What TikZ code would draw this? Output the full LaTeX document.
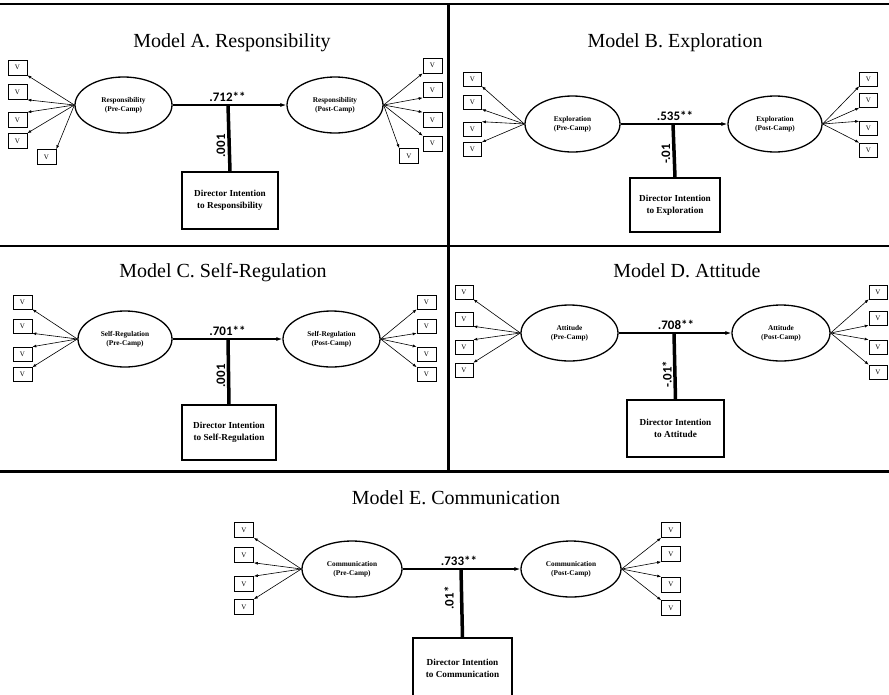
\documentclass[tikz,border=0pt]{standalone}
\usepackage{fontspec}
\setmainfont{Liberation Serif}
\newfontfamily\calib{Carlito}
\usetikzlibrary{shapes.geometric,arrows.meta}
\tikzset{
 divider/.style={line width=2.2pt},
 latent/.style={ellipse, draw, line width=1.3pt, inner sep=0pt, minimum width=97pt, minimum height=56pt, font=\fontsize{7.3}{9.3}\selectfont\bfseries, align=center},
 obs/.style={rectangle, draw, line width=0.6pt, inner sep=0pt, minimum width=19pt, minimum height=15pt, font=\fontsize{7}{8}\selectfont},
 dirbox/.style={rectangle, draw, line width=1.2pt, inner sep=0pt, font=\fontsize{9.2}{12}\selectfont\bfseries, align=center},
 ttl/.style={font=\fontsize{20}{24}\selectfont, anchor=base, inner sep=0pt},
 coef/.style={font=\calib\fontsize{13}{15}\selectfont\bfseries, anchor=base, inner sep=0pt},
 rcoef/.style={font=\calib\fontsize{13}{15}\selectfont\bfseries, rotate=90, inner sep=0pt},
 ind/.style={-{Latex[length=4pt,width=3pt]}, line width=0.6pt},
 mainarrow/.style={-{Latex[length=6pt,width=4pt]}, line width=1.1pt},
 modline/.style={line width=3.5pt},
}
\begin{document}
\begin{tikzpicture}[x=1pt,y=-1pt]
\useasboundingbox (0,0) rectangle (889,694);
\clip (0,0) rectangle (889,694);
% dividers
\draw[divider] (0,4) -- (889,4);
\draw[divider] (448.5,4) -- (448.5,472);
\draw[divider] (0,246) -- (889,246);
\draw[divider] (0,471.5) -- (889,471.5);

% ---------------- Model A
\node[ttl] (a-title) at (232,47) {Model A. Responsibility};
\node[latent] (a-pre) at (123.5,105) {Responsibility\\(Pre-Camp)};
\node[latent, minimum width=96pt] (a-post) at (335,105) {Responsibility\\(Post-Camp)};
\node[obs] (a-l1) at (17.5,67.5) {V};
\node[obs] (a-l2) at (17.5,92) {V};
\node[obs] (a-l3) at (17.5,120) {V};
\node[obs] (a-l4) at (17.5,141) {V};
\node[obs] (a-l5) at (46.5,157) {V};
\node[obs] (a-r1) at (432.5,65.5) {V};
\node[obs] (a-r2) at (432.5,90) {V};
\node[obs] (a-r3) at (432.5,120) {V};
\node[obs] (a-r4) at (432.5,143.5) {V};
\node[obs] (a-r5) at (409,156) {V};
\node[dirbox, minimum width=96pt, minimum height=57pt] (a-dir) at (230,200.5) {Director Intention\\to Responsibility};
\coordinate (a-j) at (228,105);
\draw[ind] (a-pre.west) -- (a-l1.south east);
\draw[ind] (a-pre.west) -- (a-l2.south east);
\draw[ind] (a-pre.west) -- (a-l3.north east);
\draw[ind] (a-pre.west) -- (a-l4.north east);
\draw[ind] (a-pre.west) -- (a-l5.north east);
\draw[ind] (a-post.east) -- (a-r1.south west);
\draw[ind] (a-post.east) -- (a-r2.south west);
\draw[ind] (a-post.east) -- (a-r3.north west);
\draw[ind] (a-post.east) -- (a-r4.north west);
\draw[ind] (a-post.east) -- (a-r5.north west);
\draw[mainarrow] (a-pre.east) -- (a-post.west);
\draw[modline] (a-j) -- (a-dir.north);
\node[coef] (a-lab) at (227.5,101) {.712**};
\node[rcoef] (a-rot) at (221,146) {.001};

% ---------------- Model B
\node[ttl] (b-title) at (675,47) {Model B. Exploration};
\node[latent, minimum width=95pt] (b-pre) at (572.5,124) {Exploration\\(Pre-Camp)};
\node[latent, minimum width=94pt] (b-post) at (775,124) {Exploration\\(Post-Camp)};
\node[obs, minimum width=18pt, minimum height=14pt] (b-l1) at (472.5,79) {V};
\node[obs, minimum width=18pt, minimum height=14pt] (b-l2) at (472.5,102) {V};
\node[obs, minimum width=18pt, minimum height=14pt] (b-l3) at (472.5,129) {V};
\node[obs, minimum width=18pt, minimum height=14pt] (b-l4) at (472.5,149.5) {V};
\node[obs, minimum width=18pt, minimum height=14pt] (b-r1) at (868.5,79) {V};
\node[obs, minimum width=18pt, minimum height=14pt] (b-r2) at (868.5,100.5) {V};
\node[obs, minimum width=18pt, minimum height=14pt] (b-r3) at (868.5,128.5) {V};
\node[obs, minimum width=18pt, minimum height=14pt] (b-r4) at (868.5,150) {V};
\node[dirbox, minimum width=90pt, minimum height=54pt] (b-dir) at (675,205) {Director Intention\\to Exploration};
\coordinate (b-j) at (673,124);
\draw[ind] (b-pre.west) -- (b-l1.south east);
\draw[ind] (b-pre.west) -- (b-l2.south east);
\draw[ind] (b-pre.west) -- (b-l3.north east);
\draw[ind] (b-pre.west) -- (b-l4.north east);
\draw[ind] (b-post.east) -- (b-r1.south west);
\draw[ind] (b-post.east) -- (b-r2.south west);
\draw[ind] (b-post.east) -- (b-r3.north west);
\draw[ind] (b-post.east) -- (b-r4.north west);
\draw[mainarrow] (b-pre.east) -- (b-post.west);
\draw[modline] (b-j) -- (b-dir.north);
\node[coef] (b-lab) at (675,120) {.535**};
\node[rcoef] (b-rot) at (666,154) {-.01};

% ---------------- Model C
\node[ttl] (c-title) at (223,277) {Model C. Self-Regulation};
\node[latent, minimum width=94pt] (c-pre) at (125,339) {Self-Regulation\\(Pre-Camp)};
\node[latent] (c-post) at (331.5,339) {Self-Regulation\\(Post-Camp)};
\node[obs, minimum height=14pt] (c-l1) at (22.5,302) {V};
\node[obs, minimum height=14pt] (c-l2) at (22.5,326) {V};
\node[obs, minimum height=14pt] (c-l3) at (22.5,354) {V};
\node[obs, minimum height=14pt] (c-l4) at (22.5,374.5) {V};
\node[obs, minimum height=14pt] (c-r1) at (426.5,302) {V};
\node[obs, minimum height=14pt] (c-r2) at (426.5,326) {V};
\node[obs, minimum height=14pt] (c-r3) at (426.5,354) {V};
\node[obs, minimum height=14pt] (c-r4) at (426.5,374.5) {V};
\node[dirbox, minimum width=94pt, minimum height=55pt] (c-dir) at (229,432.5) {Director Intention\\to Self-Regulation};
\coordinate (c-j) at (228,339);
\draw[ind] (c-pre.west) -- (c-l1.south east);
\draw[ind] (c-pre.west) -- (c-l2.south east);
\draw[ind] (c-pre.west) -- (c-l3.north east);
\draw[ind] (c-pre.west) -- (c-l4.north east);
\draw[ind] (c-post.east) -- (c-r1.south west);
\draw[ind] (c-post.east) -- (c-r2.south west);
\draw[ind] (c-post.east) -- (c-r3.north west);
\draw[ind] (c-post.east) -- (c-r4.north west);
\draw[mainarrow] (c-pre.east) -- (c-post.west);
\draw[modline] (c-j) -- (c-dir.north);
\node[coef] (c-lab) at (227.5,335) {.701**};
\node[rcoef] (c-rot) at (221,376) {.001};

% ---------------- Model D
\node[ttl] (d-title) at (687,277) {Model D. Attitude};
\node[latent] (d-pre) at (569.5,333) {Attitude\\(Pre-Camp)};
\node[latent, minimum width=98pt] (d-post) at (781,333) {Attitude\\(Post-Camp)};
\node[obs, minimum width=18pt, minimum height=14pt] (d-l1) at (464,292) {V};
\node[obs, minimum width=18pt, minimum height=14pt] (d-l2) at (464,319) {V};
\node[obs, minimum width=18pt, minimum height=14pt] (d-l3) at (464,347) {V};
\node[obs, minimum width=18pt, minimum height=14pt] (d-l4) at (464,370) {V};
\node[obs, minimum width=18pt, minimum height=14pt] (d-r1) at (878,292) {V};
\node[obs, minimum width=18pt, minimum height=14pt] (d-r2) at (878,318) {V};
\node[obs, minimum width=18pt, minimum height=14pt] (d-r3) at (878,347) {V};
\node[obs, minimum width=18pt, minimum height=14pt] (d-r4) at (878,372) {V};
\node[dirbox, minimum width=97pt, minimum height=57pt] (d-dir) at (675.5,428.5) {Director Intention\\to Attitude};
\coordinate (d-j) at (674,333);
\draw[ind] (d-pre.west) -- (d-l1.south east);
\draw[ind] (d-pre.west) -- (d-l2.south east);
\draw[ind] (d-pre.west) -- (d-l3.north east);
\draw[ind] (d-pre.west) -- (d-l4.north east);
\draw[ind] (d-post.east) -- (d-r1.south west);
\draw[ind] (d-post.east) -- (d-r2.south west);
\draw[ind] (d-post.east) -- (d-r3.north west);
\draw[ind] (d-post.east) -- (d-r4.north west);
\draw[mainarrow] (d-pre.east) -- (d-post.west);
\draw[modline] (d-j) -- (d-dir.north);
\node[coef] (d-lab) at (676,329) {.708**};
\node[rcoef] (d-rot) at (667,374) {-.01*};

% ---------------- Model E
\node[ttl] (e-title) at (456,504) {Model E. Communication};
\node[latent, minimum width=100pt] (e-pre) at (352,569) {Communication\\(Pre-Camp)};
\node[latent, minimum width=100pt] (e-post) at (571,569) {Communication\\(Post-Camp)};
\node[obs] (e-l1) at (244,530) {V};
\node[obs] (e-l2) at (244,555) {V};
\node[obs] (e-l3) at (244,584) {V};
\node[obs] (e-l4) at (244,607) {V};
\node[obs] (e-r1) at (671,530) {V};
\node[obs] (e-r2) at (671,554) {V};
\node[obs] (e-r3) at (671,584.5) {V};
\node[obs] (e-r4) at (671,608) {V};
\node[dirbox, minimum width=99pt, minimum height=60pt] (e-dir) at (462.5,668) {Director Intention\\to Communication};
\coordinate (e-j) at (461,569);
\draw[ind] (e-pre.west) -- (e-l1.south east);
\draw[ind] (e-pre.west) -- (e-l2.south east);
\draw[ind] (e-pre.west) -- (e-l3.north east);
\draw[ind] (e-pre.west) -- (e-l4.north east);
\draw[ind] (e-post.east) -- (e-r1.south west);
\draw[ind] (e-post.east) -- (e-r2.south west);
\draw[ind] (e-post.east) -- (e-r3.north west);
\draw[ind] (e-post.east) -- (e-r4.north west);
\draw[mainarrow] (e-pre.east) -- (e-post.west);
\draw[modline] (e-j) -- (e-dir.north);
\node[coef] (e-lab) at (459,565) {.733**};
\node[rcoef] (e-rot) at (449,598) {.01*};
\end{tikzpicture}
\end{document}
